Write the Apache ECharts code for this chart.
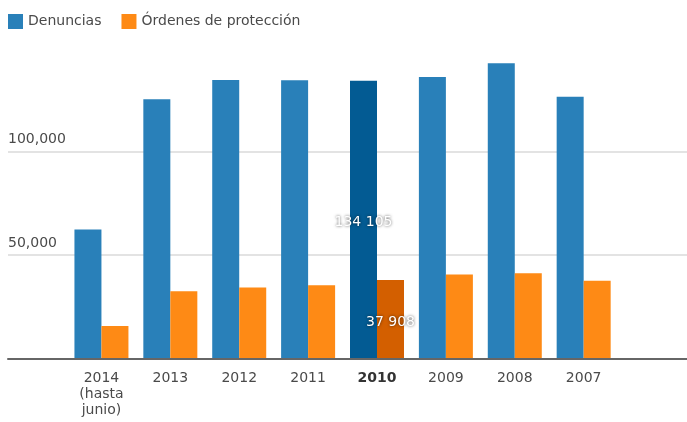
<!DOCTYPE html>
<html>
<head>
<meta charset="utf-8">
<script src="https://cdn.jsdelivr.net/npm/echarts@6/dist/echarts.min.js"></script>
<style>
html,body{margin:0;padding:0;background:#fff;}
#chart{width:687px;height:422px;}
</style>
</head>
<body>
<div id="chart"></div>
<script>
const categories = ['2014\n(hasta\njunio)', '2013', '2012', '2011', '2010', '2009', '2008', '2007', ''];
const denuncias = [62300, 125100, 134400, 134300, 134105, 135800, 142500, 126300, null];
const ordenes = [15700, 32500, 34300, 35400, 37908, 40500, 41200, 37500, null];
const highlightIndex = 4;
const yTicks = [0, 50000, 100000, 150000];

const FONT = 'DejaVu Sans';
const fmt = v => String(v).replace(/\B(?=(\d{3})+(?!\d))/g, ' ');

function buildData(values, color, hiColor) {
  return values.map((v, i) => {
    if (i !== highlightIndex) return v;
    return {
      value: v,
      itemStyle: { color: hiColor },
      label: {
        show: true, position: 'inside', offset: [0, 3], formatter: p => fmt(p.value),
        color: '#fff', fontFamily: FONT, fontSize: 14,
        textShadowColor: 'rgba(0,0,0,0.7)', textShadowBlur: 3
      }
    };
  });
}

const chart = echarts.init(document.getElementById('chart'), null, {renderer: 'canvas'});
const gTop = 47.7, gBottom = 63.5;
chart.setOption({
  animation: false,
  legend: {
    data: ['Denuncias', 'Órdenes de protección'],
    left: 8, top: 14, padding: 0, icon: 'rect', itemWidth: 15, itemHeight: 15, itemGap: 20,
    textStyle: { fontFamily: FONT, fontSize: 14, color: '#4a4a4a' }
  },
  grid: [
    { left: 8, right: 0, top: gTop, bottom: gBottom },
    { left: 67, right: 0, top: gTop, bottom: gBottom }
  ],
  xAxis: [
    { gridIndex: 0, type: 'value', min: 0, max: 1, z: 5,
      axisLine: { show: true, onZero: false, lineStyle: { color: '#666', width: 2 } },
      axisTick: { show: false }, axisLabel: { show: false }, splitLine: { show: false } },
    { gridIndex: 1, type: 'category', data: categories,
      axisLine: { show: false }, axisTick: { show: false },
      axisLabel: {
        interval: 0, margin: 12, color: '#4a4a4a', fontFamily: FONT, fontSize: 14, lineHeight: 16,
        formatter: (v, i) => i === highlightIndex ? '{b|' + v + '}' : v,
        rich: { b: { fontWeight: 'bold', fontFamily: FONT, fontSize: 14, color: '#333' } }
      } }
  ],
  yAxis: [
    { gridIndex: 0, type: 'value', min: yTicks[0], max: yTicks[yTicks.length - 1], interval: yTicks[1] - yTicks[0],
      axisLine: { show: false }, axisTick: { show: false },
      splitLine: { show: true, showMinLine: false, showMaxLine: false, lineStyle: { color: '#e3e3e3', width: 2 } },
      axisLabel: {
        inside: true, margin: 0, align: 'left', verticalAlign: 'bottom', padding: [0, 0, 5, 0],
        showMinLabel: false, showMaxLabel: false,
        color: '#4a4a4a', fontFamily: FONT, fontSize: 14,
        formatter: v => v.toLocaleString('en-US')
      } },
    { gridIndex: 1, type: 'value', min: yTicks[0], max: yTicks[yTicks.length - 1], interval: yTicks[1] - yTicks[0],
      show: false, splitLine: { show: false } }
  ],
  series: [
    { name: 'Denuncias', type: 'bar', xAxisIndex: 1, yAxisIndex: 1, barWidth: 27, barGap: '0%',
      itemStyle: { color: '#2980b9' },
      data: buildData(denuncias, '#2980b9', '#035b93') },
    { name: 'Órdenes de protección', type: 'bar', xAxisIndex: 1, yAxisIndex: 1, barWidth: 27, barGap: '0%',
      itemStyle: { color: '#fe8a15' },
      data: buildData(ordenes, '#fe8a15', '#d35f00') }
  ]
});
</script>
</body>
</html>
